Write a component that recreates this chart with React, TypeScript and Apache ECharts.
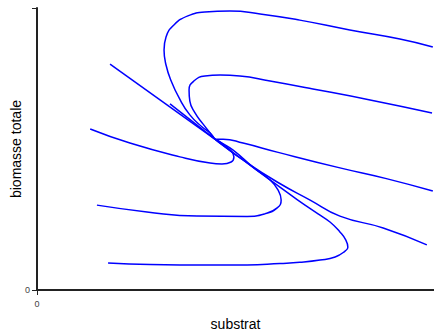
import React, { useEffect, useRef } from "react";
import * as echarts from "echarts";

// Trajectories in (substrat, biomasse totale)
const trajA: number[][] = [
  [9.97, 8.62], [9.14, 8.9], [7.88, 9.22], [6.62, 9.57], [5.62, 9.79], [4.86, 9.89],
  [4.23, 9.86], [3.8, 9.72], [3.45, 9.4], [3.25, 8.97], [3.2, 8.51], [3.25, 7.98],
  [3.38, 7.41], [3.58, 6.81], [3.85, 6.21], [4.16, 5.78], [4.36, 5.57], [4.48, 5.35],
];
const trajB: number[][] = [
  [9.95, 6.28], [8.39, 6.74], [6.95, 7.13], [5.87, 7.41], [5.11, 7.59], [4.61, 7.62],
  [4.23, 7.59], [3.95, 7.41], [3.83, 7.09], [3.85, 6.7], [3.98, 6.28], [4.18, 5.89],
  [4.36, 5.57], [4.48, 5.35],
];
const trajC: number[][] = [
  [9.97, 3.51], [8.8, 3.95], [7.63, 4.33], [6.05, 4.89], [5.19, 5.21], [4.69, 5.35], [4.48, 5.35],
];
const trajD: number[][] = [
  [1.34, 5.71], [2.34, 5.21], [3.6, 4.72], [4.36, 4.5], [4.66, 4.47], [4.89, 4.54],
  [4.96, 4.72], [4.89, 4.93], [4.71, 5.14], [4.53, 5.32], [4.48, 5.35],
];
const trajE: number[][] = [
  [9.82, 1.6], [8.72, 2.2], [7.63, 2.62], [6.88, 3.19], [6.05, 3.83], [5.19, 4.61],
  [4.61, 5.21], [4.48, 5.35],
];
const trajF: number[][] = [
  [1.79, 0.96], [2.85, 0.9], [3.6, 0.89], [4.43, 0.89], [5.29, 0.89], [6.12, 0.94],
  [6.62, 0.98], [7.13, 1.06], [7.51, 1.17], [7.76, 1.38], [7.83, 1.52], [7.78, 1.77],
  [7.63, 2.06], [7.38, 2.41], [7.08, 2.7], [6.57, 3.19], [6.05, 3.72], [5.19, 4.61],
  [4.61, 5.21], [4.48, 5.35],
];
const trajG: number[][] = [
  [1.51, 3.01], [2.77, 2.77], [4.03, 2.62], [5.29, 2.61], [5.74, 2.7], [6.05, 2.91],
  [6.15, 3.19], [6.07, 3.55], [5.87, 3.9], [5.44, 4.36], [4.94, 4.96], [4.61, 5.25],
  [4.48, 5.35],
];
const trajL: number[][] = [
  [1.84, 8.01], [4.48, 5.35],
];
const trajH: number[][] = [
  [3.35, 6.6], [4.48, 5.35],
];
const trajectories = [trajA, trajB, trajC, trajD, trajE, trajF, trajG, trajL, trajH];

const xTicks = [0, 10];
const yTicks = [0, 10];
const xName = "substrat";
const yName = "biomasse totale";

export default function App() {
  const ref = useRef<HTMLDivElement>(null);
  useEffect(() => {
    if (!ref.current) return;
    const chart = echarts.init(ref.current, null, { renderer: "svg" });
    const axisCommon = {
      type: "value" as const,
      interval: 10,
      splitLine: { show: false },
      axisLine: { show: true, lineStyle: { color: "#222", width: 2 } },
      axisTick: { show: true, length: 5, lineStyle: { color: "#222", width: 1 } },
      nameLocation: "middle" as const,
      nameTextStyle: { fontFamily: "Liberation Sans", fontSize: 14, color: "#000" },
    };
    chart.setOption({
      animation: false,
      grid: { left: 37, right: 0, top: 8, bottom: 43, outerBoundsMode: "none", containLabel: false },
      xAxis: {
        ...axisCommon,
        min: xTicks[0],
        max: xTicks[1],
        name: xName,
        nameGap: 27,
        axisLabel: {
          margin: 9,
          fontSize: 9,
          color: "#444",
          fontFamily: "Liberation Sans",
          formatter: (v: number) => (v === 0 ? "0" : ""),
        },
      },
      yAxis: {
        ...axisCommon,
        min: yTicks[0],
        max: yTicks[1],
        name: yName,
        nameGap: 14,
        nameMoveOverlap: false,
        axisLabel: {
          margin: 7,
          fontSize: 9,
          color: "#444",
          fontFamily: "Liberation Sans",
          padding: [5, 0, 0, 0],
          formatter: (v: number) => (v === 0 ? "0" : ""),
        },
      },
      series: trajectories.map((d) => ({
        type: "line",
        data: d,
        showSymbol: false,
        smooth: 0.5,
        lineStyle: { color: "#0000ff", width: 1.5 },
      })),
    });
    return () => chart.dispose();
  }, []);
  return (
    <div
      ref={ref}
      style={{ position: "fixed", left: 0, top: 0, width: 434, height: 333, background: "#fff" }}
    />
  );
}
